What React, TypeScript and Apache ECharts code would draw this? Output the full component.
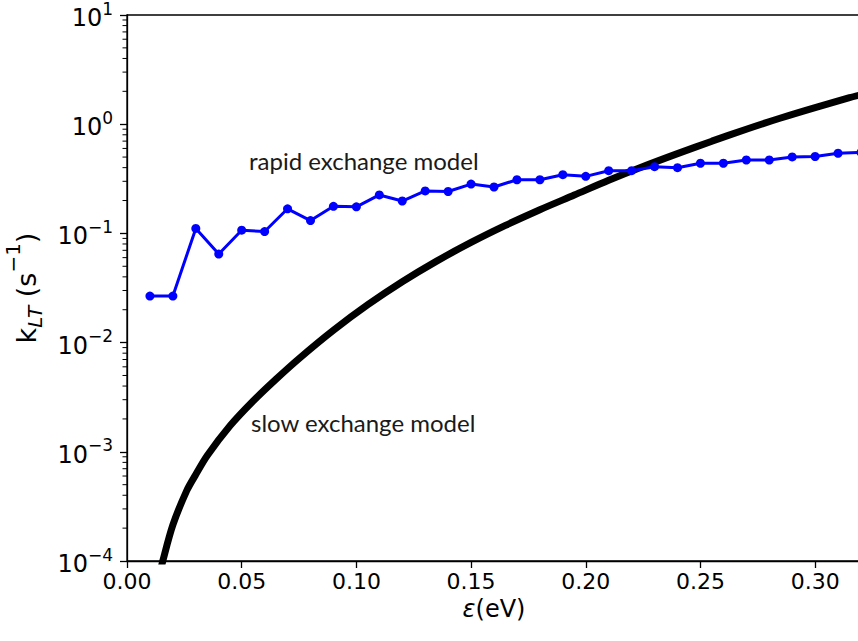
import React, { useEffect, useRef } from "react";
import * as echarts from "echarts";

// Rapid exchange model (blue points)
const rapidX = [0.01, 0.02, 0.03, 0.04, 0.05, 0.06, 0.07, 0.08, 0.09, 0.1, 0.11, 0.12, 0.13, 0.14, 0.15, 0.16, 0.17, 0.18, 0.19, 0.2, 0.21, 0.22, 0.23, 0.24, 0.25, 0.26, 0.27, 0.28, 0.29, 0.3, 0.31, 0.32];
const rapidY = [0.0267, 0.0267, 0.111, 0.0647, 0.107, 0.104, 0.168, 0.131, 0.177, 0.175, 0.225, 0.198, 0.245, 0.242, 0.283, 0.266, 0.31, 0.31, 0.345, 0.333, 0.375, 0.375, 0.408, 0.4, 0.439, 0.439, 0.47, 0.47, 0.501, 0.506, 0.542, 0.551];

// Slow exchange model (black curve)
const slowX = [0.0143, 0.0156, 0.02, 0.026, 0.03, 0.035, 0.045, 0.055, 0.065, 0.075, 0.09, 0.105, 0.12, 0.135, 0.15, 0.165, 0.18, 0.195, 0.21, 0.225, 0.24, 0.255, 0.27, 0.285, 0.3, 0.315, 0.32];
const slowY = [0.000076, 0.0001, 0.000214, 0.000439, 0.00062, 0.000925, 0.00174, 0.00292, 0.00463, 0.00714, 0.01297, 0.02223, 0.03606, 0.05572, 0.0826, 0.1183, 0.1648, 0.2244, 0.3062, 0.4093, 0.5377, 0.6992, 0.9, 1.14, 1.42, 1.75, 1.86];

// Axis ticks
const xTickValues = [0, 0.05, 0.1, 0.15, 0.2, 0.25, 0.3];
const yDecades = [-4, -3, -2, -1, 0, 1];
const minorMultipliers = [2, 3, 4, 5, 6, 7, 8, 9];

const annotations = [
  { text: "rapid exchange model", x: 249, y: 160 },
  { text: "slow exchange model", x: 251, y: 422 },
];

const FONT = "DejaVu Sans";

export default function App() {
  const ref = useRef<HTMLDivElement>(null);

  useEffect(() => {
    if (!ref.current) return;
    const chart = echarts.init(ref.current, null, { renderer: "svg" });

    const minorTicks: number[][] = [];
    for (const e of yDecades.slice(0, -1)) {
      for (const m of minorMultipliers) minorTicks.push([0, m * Math.pow(10, e)]);
    }

    const option: any = {
      animation: false,
      backgroundColor: "#ffffff",
      grid: {
        left: 127,
        top: 15,
        width: 734,
        height: 546,
        containLabel: false,
        outerBoundsMode: "none",
        show: true,
        borderColor: "#000",
        borderWidth: 1.3,
        backgroundColor: "transparent",
      },
      xAxis: {
        type: "value",
        min: 0,
        max: 0.32,
        interval: 0.05,
        name: "{it|ε}{n|(eV)}",
        nameLocation: "middle",
        nameGap: 36,
        nameTextStyle: {
          rich: {
            it: { fontFamily: FONT, fontSize: 24, fontStyle: "italic", color: "#000" },
            n: { fontFamily: FONT, fontSize: 24, color: "#000" },
          },
        },
        axisLine: { show: true, onZero: false, lineStyle: { color: "#000", width: 1.3 } },
        axisTick: { show: true, length: 7, lineStyle: { color: "#000", width: 1.3 } },
        splitLine: { show: false },
        axisLabel: {
          show: true,
          margin: 9,
          fontFamily: FONT,
          fontSize: 22,
          color: "#000",
          showMaxLabel: false,
          formatter: (v: number) => {
            const ok = xTickValues.some((t) => Math.abs(t - v) < 1e-9);
            return ok ? v.toFixed(2) : "";
          },
        },
      },
      yAxis: {
        type: "log",
        logBase: 10,
        min: 1e-4,
        max: 10,
        name: "{n|k}{sub|LT}{n| (s}{sup|−1}{n|)}",
        nameLocation: "middle",
        nameGap: 87,
        nameRotate: 90,
        nameTextStyle: {
          rich: {
            n: { fontFamily: FONT, fontSize: 27, color: "#000", verticalAlign: "bottom", lineHeight: 34 },
            sub: { fontFamily: FONT, fontSize: 20, fontStyle: "italic", color: "#000", verticalAlign: "bottom", lineHeight: 34, padding: [0, 0, -5, 0] },
            sup: { fontFamily: FONT, fontSize: 20, color: "#000", verticalAlign: "top", lineHeight: 34, padding: [-3, 0, 0, 0] },
          },
        },
        axisLine: { show: true, onZero: false, lineStyle: { color: "#000", width: 1.3 } },
        axisTick: { show: true, length: 7, lineStyle: { color: "#000", width: 1.3 } },
        minorTick: { show: false },
        splitLine: { show: false },
        axisLabel: {
          show: true,
          margin: 14,
          formatter: (v: number) => {
            const e = Math.round(Math.log10(v));
            const s = e < 0 ? "−" + Math.abs(e) : String(e);
            return "{b|10}{s|" + s + "}";
          },
          rich: {
            b: { fontFamily: FONT, fontSize: 24, color: "#000", verticalAlign: "bottom", lineHeight: 30 },
            s: { fontFamily: FONT, fontSize: 17, color: "#000", verticalAlign: "top", lineHeight: 30 },
          },
        },
      },
      series: [
        {
          type: "custom",
          silent: true,
          clip: false,
          data: minorTicks,
          renderItem: (_params: any, api: any) => {
            const p = api.coord([0, api.value(1)]);
            return {
              type: "line",
              shape: { x1: p[0] - 4.5, y1: p[1], x2: p[0], y2: p[1] },
              style: { stroke: "#000", lineWidth: 1 },
            };
          },
          z: 1,
        },
        {
          name: "slow",
          type: "line",
          data: slowX.map((x, i) => [x, slowY[i]]),
          showSymbol: false,
          symbol: "none",
          smooth: 0.3,
          clip: true,
          lineStyle: { color: "#000", width: 7 },
          z: 2,
        },
        {
          name: "rapid",
          type: "line",
          data: rapidX.map((x, i) => [x, rapidY[i]]),
          symbol: "circle",
          symbolSize: 9,
          clip: true,
          itemStyle: { color: "#0000ff" },
          lineStyle: { color: "#0000ff", width: 3 },
          z: 3,
        },
      ],
      graphic: annotations.map((a) => ({
        type: "text",
        x: a.x,
        y: a.y,
        style: {
          text: a.text,
          fontFamily: "Lato",
          fontSize: 24,
          fill: "#1a1a1a",
          verticalAlign: "middle",
          align: "left",
        },
        z: 10,
      })),
    };

    chart.setOption(option);
    return () => chart.dispose();
  }, []);

  return (
    <div
      ref={ref}
      style={{ position: "fixed", left: 0, top: 0, width: 858, height: 641, background: "#fff" }}
    />
  );
}
